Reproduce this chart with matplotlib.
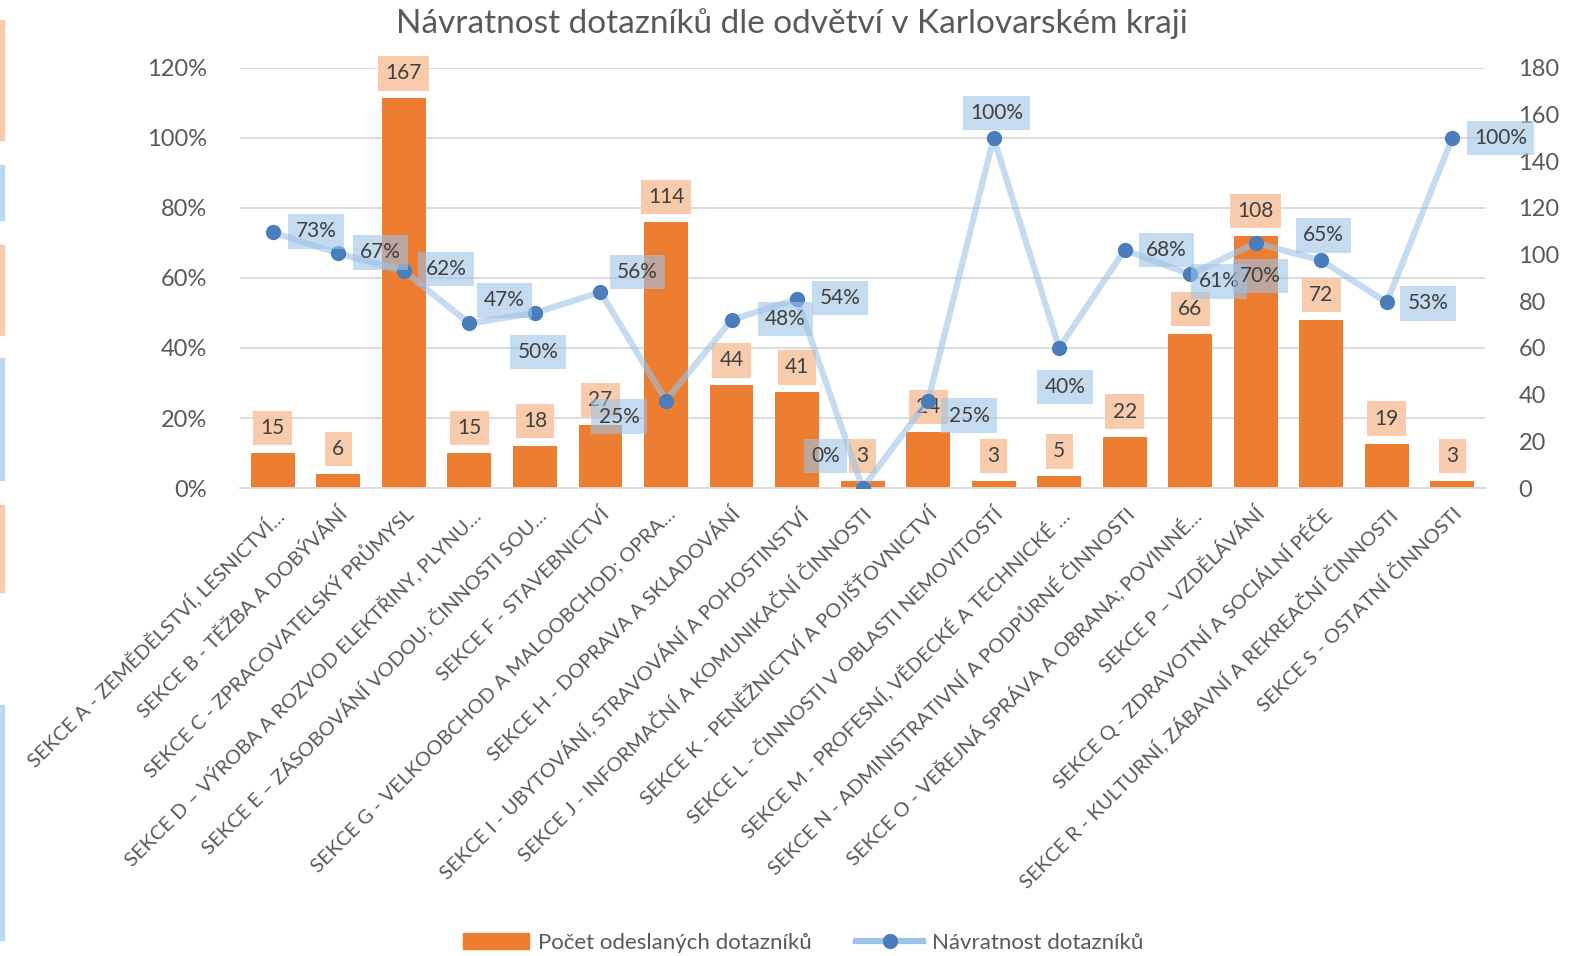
import matplotlib.pyplot as plt
from matplotlib.patches import Rectangle
from matplotlib.lines import Line2D
from matplotlib.patches import Patch

plt.rcParams['font.family'] = ['Lato', 'DejaVu Sans']

categories = [
    "SEKCE A - ZEMĚDĚLSTVÍ, LESNICTVÍ…",
    "SEKCE B - TĚŽBA A DOBÝVÁNÍ",
    "SEKCE C - ZPRACOVATELSKÝ PRŮMYSL",
    "SEKCE D – VÝROBA A ROZVOD ELEKTŘINY, PLYNU…",
    "SEKCE E – ZÁSOBOVÁNÍ VODOU; ČINNOSTI SOU…",
    "SEKCE F - STAVEBNICTVÍ",
    "SEKCE G - VELKOOBCHOD A MALOOBCHOD; OPRA…",
    "SEKCE H - DOPRAVA A SKLADOVÁNÍ",
    "SEKCE I - UBYTOVÁNÍ, STRAVOVÁNÍ A POHOSTINSTVÍ",
    "SEKCE J - INFORMAČNÍ A KOMUNIKAČNÍ ČINNOSTI",
    "SEKCE K - PENĚŽNICTVÍ A POJIŠŤOVNICTVÍ",
    "SEKCE L - ČINNOSTI V OBLASTI NEMOVITOSTÍ",
    "SEKCE M - PROFESNÍ, VĚDECKÉ A TECHNICKÉ …",
    "SEKCE N - ADMINISTRATIVNÍ A PODPŮRNÉ ČINNOSTI",
    "SEKCE O - VEŘEJNÁ SPRÁVA A OBRANA; POVINNÉ…",
    "SEKCE P – VZDĚLÁVÁNÍ",
    "SEKCE Q - ZDRAVOTNÍ A SOCIÁLNÍ PÉČE",
    "SEKCE R - KULTURNÍ, ZÁBAVNÍ A REKREAČNÍ ČINNOSTI",
    "SEKCE S - OSTATNÍ ČINNOSTI",
]
sent = [15, 6, 167, 15, 18, 27, 114, 44, 41, 3, 24, 3, 5, 22, 66, 108, 72, 19, 3]
returned_pct = [73, 67, 62, 47, 50, 56, 25, 48, 54, 0, 25, 100, 40, 68, 61, 70, 65, 53, 100]

pct_ticks = [0, 20, 40, 60, 80, 100, 120]
count_ticks = list(range(0, 181, 20))

# label offsets in pixels (dx, dy) for the percentage labels, like Excel placed them
pct_label_offsets = [(43, 1), (42, 1), (42, 2), (35, 23), (3, -39), (37, 20), (-47, -16),
                     (54, 1), (43, 1), (-37, 32), (41, -15), (3, 25), (6, -39), (42, 0),
                     (29, -7), (5, -33), (2, 25), (41, -1), (48, 0)]

text_col = '#595959'
bar_col = '#ED7D31'
line_col = '#9DC3E6'
marker_col = '#4A7EBB'

fig = plt.figure(figsize=(15.9, 9.56), dpi=100)
ax = fig.add_axes([0.151, 0.4895, 0.783, 0.4395])
ax2 = ax.twinx()

x = list(range(len(categories)))
scale = count_ticks[-1] / pct_ticks[-1]

# gridlines behind bars (belong to percentage axis)
for p in pct_ticks[1:]:
    ax.axhline(p * scale, color='#D9D9D9', lw=1.3, zorder=0)

ax.bar(x, sent, width=0.67, color=bar_col, zorder=2)
for xi, v in zip(x, sent):
    ax.annotate(str(v), (xi, v), xytext=(0, 25), textcoords='offset pixels',
                ha='center', va='center', fontsize=15, color='#404040', zorder=3,
                bbox=dict(boxstyle='square,pad=0.35', fc='#F8CBAD', ec='none'))

ax.set_xlim(-0.5, len(categories) - 0.5)
ax.set_ylim(0, count_ticks[-1])
ax.set_yticks(count_ticks)
ax.yaxis.tick_right()
ax.tick_params(axis='y', length=0, labelsize=17, labelcolor=text_col, pad=24)
ax.set_xticks(x)
ax.set_xticklabels(categories, rotation=45, ha='right', rotation_mode='anchor',
                   fontsize=14.5, color=text_col)
ax.tick_params(axis='x', length=0, pad=12)
for s in ['top', 'left', 'right']:
    ax.spines[s].set_visible(False)
ax.spines['bottom'].set_color('#D9D9D9')
ax.spines['bottom'].set_linewidth(1.3)

ax2.plot(x, returned_pct, color=line_col, lw=4.5, alpha=0.6, zorder=2, solid_capstyle='round')
ax2.plot(x, returned_pct, 'o', color=marker_col, ms=10, zorder=3)
for xi, v, (dx, dy) in zip(x, returned_pct, pct_label_offsets):
    ax2.annotate(f"{v}%", (xi, v), xytext=(dx, dy), textcoords='offset pixels',
                 ha='center', va='center', fontsize=15, color='#404040', zorder=4,
                 bbox=dict(boxstyle='square,pad=0.35', fc='#9DC3E6', ec='none', alpha=0.6))
ax2.set_ylim(0, pct_ticks[-1])
ax2.set_yticks(pct_ticks)
ax2.set_yticklabels([f"{p}%" for p in pct_ticks])
ax2.yaxis.tick_left()
ax2.tick_params(axis='y', length=0, labelsize=17, labelcolor=text_col, pad=24)
for s in ['top', 'left', 'right', 'bottom']:
    ax2.spines[s].set_visible(False)

fig.text(0.498, 0.975, "Návratnost dotazníků dle odvětví v Karlovarském kraji",
         ha='center', va='center', fontsize=24, color=text_col)

handles = [Patch(color=bar_col),
           Line2D([0], [0], color=line_col, lw=4.5, marker='o', ms=10,
                  markerfacecolor=marker_col, markeredgecolor=marker_col)]
fig.legend(handles, ["Počet odeslaných dotazníků", "Návratnost dotazníků"],
           loc='center', bbox_to_anchor=(0.505, 0.014), ncol=2, frameon=False,
           fontsize=16, labelcolor=text_col, handlelength=3.0, columnspacing=2.0,
           handletextpad=0.4)

# thin coloured strips at the left edge of the original image
strips = [(20, 140, '#F8CBAD'), (165, 220, '#BDD7EE'), (245, 335, '#F8CBAD'),
          (358, 480, '#BDD7EE'), (505, 592, '#F8CBAD'), (705, 940, '#BDD7EE')]
for y0, y1, c in strips:
    fig.patches.append(Rectangle((0, 1 - y1 / 956), 4 / 1590, (y1 - y0) / 956,
                                 transform=fig.transFigure, color=c))

fig.savefig('out.png', dpi=100)
